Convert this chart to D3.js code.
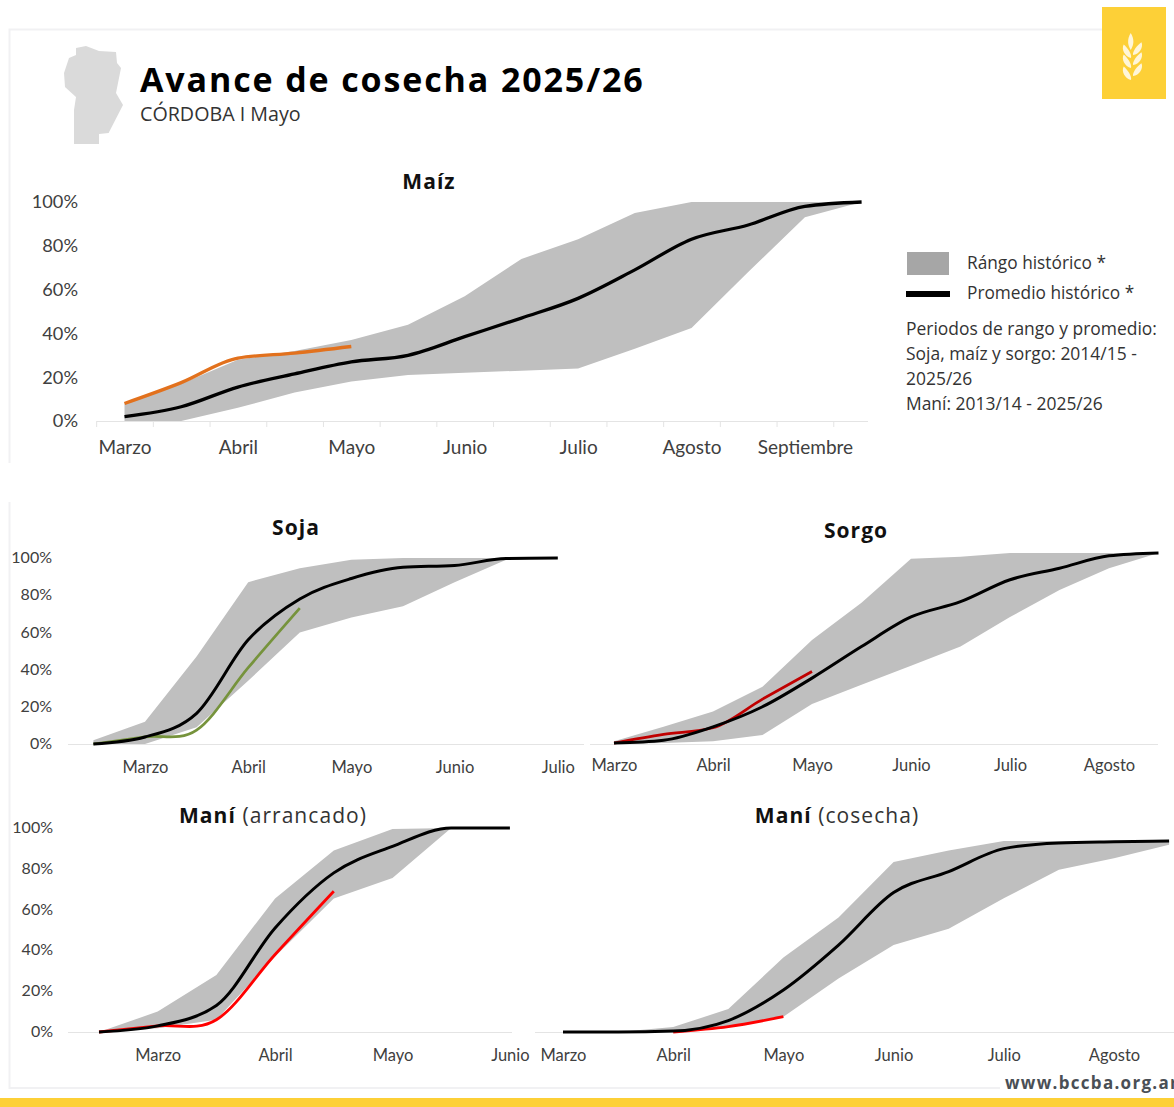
<!DOCTYPE html>
<html><head><meta charset="utf-8">
<script src="https://cdnjs.cloudflare.com/ajax/libs/d3/7.8.5/d3.min.js"></script>
<style>
html,body{margin:0;padding:0;background:#fff;overflow:hidden}
svg{display:block}
text{font-family:"Open Sans",sans-serif}
.tick text,.lbl{font-family:Lato,sans-serif}
</style></head><body>
<svg id="c" width="1174" height="1107"></svg>
<script>
// ---- Data: progress (%) at half-month steps ----
const yTicks = [0,20,40,60,80,100];
const monthsMaiz = ["Marzo","Abril","Mayo","Junio","Julio","Agosto","Septiembre"];
const maizUpper = [8,17,28,32,37,44,57,74,83,95,100,100,100,100];
const maizLower = [0,0,6,13,18,21,22,23,24,33,42.5,68,93,100];
const maizAvg   = [2,6.5,15.5,21.5,27,30,38.5,47,56,69,83,89.5,98,100];
const maizCur   = [8,17.5,28.7,31,34];

const monthsSoja = ["Marzo","Abril","Mayo","Junio","Julio"];
const sojaUpper = [2,12,47,87,94.5,99,100,100,100,100];
const sojaLower = [0,0,9,34,60,68,74,87,99,100];
const sojaAvg   = [0,3.8,16.5,56,78,89,95,96,99.7,100];
const sojaCur   = [0,3.8,7.5,41,73];

const monthsSorgo = ["Marzo","Abril","Mayo","Junio","Julio","Agosto"];
const sorgoUpper = [1.5,9,17,30,54.5,74,97,98,100,100,100,100];
const sorgoLower = [0,0.5,1.5,4.7,21,31,41,51,66.5,80.6,92,100];
const sorgoAvg   = [0.5,2,9,19.5,34.5,51,66.5,74.5,86,92,98.5,100];
const sorgoCur   = [0.5,5,8.5,23.5,38];

const monthsArr = ["Marzo","Abril","Mayo","Junio"];
const arrUpper = [0,10,28,65.5,89,99.5,100,100];
const arrLower = [0,1.8,6,37,65.5,75.5,100,100];
const arrAvg   = [0,3,13,51,78,91,100,100];
const arrCur   = [0,3,6,38,69];

const monthsCos = ["Marzo","Abril","Mayo","Junio","Julio","Agosto"];
const cosUpper = [0,0,2.6,12,39,60,89,95,100,100,100,100];
const cosLower = [0,0,0,2.5,8,28,45.5,54,70,85,91,98];
const cosAvg   = [0,0,0.5,6,22,45.5,73,84,96,99,99.6,100];
const cosCur   = [0,2.8,8];
const cosCurStart = 2;

const legendItems = ["Rángo histórico *","Promedio histórico *"];
const notes = ["Periodos de rango y promedio:","Soja, maíz y sorgo: 2014/15 -","2025/26","Maní: 2013/14 - 2025/26"];

// ---- Chart specs ----
const mono = d3.curveMonotoneX, card = d3.curveCardinal.tension(0);
const charts = [
 {months:monthsMaiz,up:maizUpper,lo:maizLower,avg:maizAvg,cur:maizCur,start:0,color:"#e2711d",curCurve:mono,
  x0:124.5,step:56.7,y0:421,y100:202,monthOffset:0,yAxis:true,axisX:[97,868],halfTicks:true,fs:19,ly:28,curW:3.4,avgW:3.3,
  yLabelX:78,yfs:18.2,yShift:0},
 {months:monthsSoja,up:sojaUpper,lo:sojaLower,avg:sojaAvg,cur:sojaCur,start:0,color:"#76933c",curCurve:card,
  x0:93.4,step:51.6,y0:744,y100:558,monthOffset:1,yAxis:true,axisX:[68,584],fs:16.5,ly:25.5,curW:2.7,avgW:3,yLabelX:52,yfs:16,yShift:-0.5},
 {months:monthsSorgo,up:sorgoUpper,lo:sorgoLower,avg:sorgoAvg,cur:sorgoCur,start:0,color:"#c00000",curCurve:mono,
  x0:614,step:49.5,y0:744,y100:553,monthOffset:0,axisX:[590,1158],fs:16.5,ly:23,curW:2.8,avgW:3},
 {months:monthsArr,up:arrUpper,lo:arrLower,avg:arrAvg,cur:arrCur,start:0,color:"#ff0000",curCurve:card,
  x0:99,step:58.7,y0:1032,y100:828,monthOffset:1,yAxis:true,axisX:[68,512],fs:16.5,ly:25,curW:2.8,avgW:3,yLabelX:53,yfs:16,yShift:-0.7},
 {months:monthsCos,up:cosUpper,lo:cosLower,avg:cosAvg,cur:cosCur,start:cosCurStart,color:"#ff0000",curCurve:mono,
  x0:563,step:55.1,y0:1032,y100:841,monthOffset:0,axisX:[535,1174],fs:16.5,ly:25,curW:2.8,avgW:3}
];

const svg = d3.select("#c");

// ---- Frame & header ----
const frameCol = "#f1f1f3";
const frame = [[[9.5,463],[9.5,29.5],[1102,29.5]],[[9.5,502],[9.5,1088],[1000,1088]]];
svg.selectAll("path.frame").data(frame).join("path").attr("class","frame")
  .attr("d",d3.line()).attr("fill","none").attr("stroke",frameCol).attr("stroke-width",2);
svg.append("rect").attr("x",0).attr("y",1098).attr("width",1174).attr("height",9).attr("fill","#fdd037");

// province silhouette
const province = [[76,48],[86,46],[99,51],[116,52],[117,63],[121,68],[116,93],[123,105],[108.6,133],[99,134],[99,144],[74,144],[74,110],[76,97],[65,87],[64,73],[69,58],[76,55]];
svg.append("path").attr("d",d3.line().curve(d3.curveLinearClosed)(province)).attr("fill","#dadada");

svg.append("text").attr("x",140).attr("y",92).attr("font-size",34).attr("font-weight",700)
  .attr("letter-spacing",1.87).attr("fill","#000").text("Avance de cosecha 2025/26");
svg.append("text").attr("x",140).attr("y",121).attr("font-size",19.7).attr("fill","#333").text("CÓRDOBA I Mayo");

// logo
svg.append("rect").attr("x",1102).attr("y",7).attr("width",64).attr("height",92).attr("fill","#fdd037");
const leaf = "M0,0 C2,-3 10,-4 15,-3 C13,2 5,4 0,0Z";
const logo = svg.append("g").attr("fill","#fff6d8");
logo.append("path").attr("d","M1130.7,33 C1134.5,39 1134,45 1130.7,50 C1127.5,45 1127,39 1130.7,33Z");
[[55,58],[65,68],[76,80]].forEach(([r,l])=>{
  logo.append("path").attr("d",leaf).attr("transform",`translate(1133,${r}) rotate(-45)`);
  logo.append("path").attr("d",leaf).attr("transform",`translate(1131,${l}) scale(-1,1) rotate(-50)`);
});

// ---- Legend ----
svg.append("rect").attr("x",907).attr("y",252).attr("width",42).attr("height",23).attr("fill","#a6a6a6");
svg.append("rect").attr("x",906).attr("y",291).attr("width",44).attr("height",6).attr("fill","#000");
svg.selectAll("text.leg").data(legendItems).join("text").attr("class","leg")
  .attr("x",967).attr("y",(d,i)=>269+i*30).attr("font-size",17.3).attr("fill","#333").text(d=>d);
svg.selectAll("text.note").data(notes).join("text").attr("class","note")
  .attr("x",906).attr("y",(d,i)=>334.5+i*25).attr("font-size",17.45).attr("fill","#333").text(d=>d);

// ---- Charts ----
charts.forEach(c=>{
  const n = c.avg.length-1;
  const x = d3.scaleLinear().domain([0,n]).range([c.x0,c.x0+n*c.step]);
  const y = d3.scaleLinear().domain([0,100]).range([c.y0,c.y100]);
  const g = svg.append("g");
  const band = d3.area().x((d,i)=>x(i)).y0((d,i)=>y(c.lo[i])).y1(d=>y(d));

  // x axis
  const monthIdx = c.months.map((m,i)=>c.monthOffset+i*2);
  const ax = d3.axisBottom(x).tickValues(monthIdx).tickSize(0).tickPadding(c.ly-8)
      .tickFormat((d,i)=>c.months[i]);
  const gx = g.append("g").attr("transform",`translate(0,${c.y0})`).call(ax);
  gx.select(".domain").remove();
  gx.selectAll("text").attr("font-size",c.fs).attr("fill","#404040");
  g.append("line").attr("x1",c.axisX[0]).attr("x2",c.axisX[1]).attr("y1",c.y0+0.5).attr("y2",c.y0+0.5)
    .attr("stroke","#e4e4e4").attr("stroke-width",1.2);
  if(c.halfTicks){
    const ta = d3.axisBottom(x).tickValues(d3.range(-0.5,n,1)).tickSize(6).tickFormat("");
    const gt = g.append("g").attr("transform",`translate(0,${c.y0})`).call(ta);
    gt.select(".domain").remove();
    gt.selectAll("line").attr("stroke","#e4e4e4");
  }
  // y axis
  if(c.yAxis){
    const ay = d3.axisLeft(y).tickValues(yTicks).tickSize(0).tickPadding(0).tickFormat(d=>d+"%");
    const gy = g.append("g").attr("transform",`translate(${c.yLabelX},${c.yShift})`).call(ay);
    gy.select(".domain").remove();
    gy.selectAll("text").attr("font-size",c.yfs).attr("fill","#404040");
  }
  // marks
  g.append("path").datum(c.up).attr("d",band).attr("fill","#bfbfbf");
  g.append("path").attr("d",d3.line().curve(c.curCurve)(c.cur.map((v,i)=>[x(i+c.start),y(v)])))
    .attr("fill","none").attr("stroke",c.color).attr("stroke-width",c.curW);
  g.append("path").attr("d",d3.line().curve(mono)(c.avg.map((v,i)=>[x(i),y(v)])))
    .attr("fill","none").attr("stroke","#000").attr("stroke-width",c.avgW);
});

// ---- Chart titles ----
const titles = [
 {b:"Maíz",r:"",x:429,y:189,fs:21},
 {b:"Soja",r:"",x:296,y:535,fs:21},
 {b:"Sorgo",r:"",x:856,y:538,fs:21},
 {b:"Maní",r:" (arrancado)",x:273,y:823,fs:21},
 {b:"Maní",r:" (cosecha)",x:837,y:823,fs:21}
];
titles.forEach(t=>{
  const e = svg.append("text").attr("x",t.x).attr("y",t.y).attr("text-anchor","middle")
    .attr("font-size",t.fs).attr("letter-spacing",1.05).attr("fill","#111");
  e.append("tspan").attr("font-weight",700).text(t.b);
  if(t.r) e.append("tspan").attr("fill","#333").text(t.r);
});

// footer
svg.append("rect").attr("x",1000).attr("y",1068).attr("width",174).attr("height",30).attr("fill","#fff");
svg.append("text").attr("x",1005).attr("y",1089).attr("font-size",17).attr("font-weight",700)
  .attr("letter-spacing",1.3).attr("fill","#4a4f55").text("www.bccba.org.ar");
</script>
</body></html>
